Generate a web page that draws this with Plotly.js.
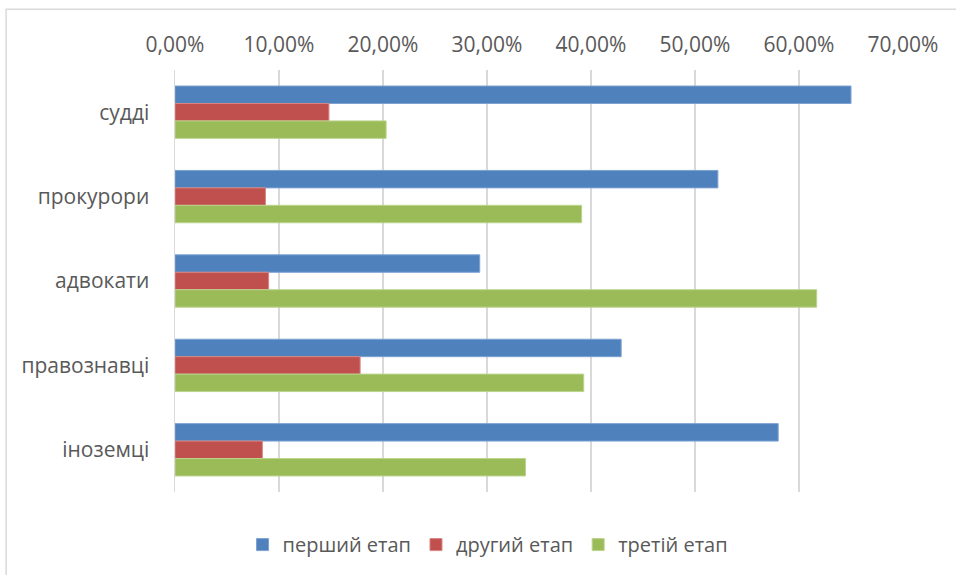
<!DOCTYPE html>
<html>
<head>
<meta charset="utf-8">
<script src="https://cdn.plot.ly/plotly-3.0.1.min.js"></script>
<style>html,body{margin:0;padding:0;background:#fff;}#chart{width:956px;height:575px;}</style>
</head>
<body>
<div id="chart"></div>
<script>
const categories = ["судді", "прокурори", "адвокати", "правознавці", "іноземці"];
const seriesNames = ["перший етап", "другий етап", "третій етап"];
const stage1 = [0.650, 0.522, 0.293, 0.429, 0.580];
const stage2 = [0.148, 0.087, 0.090, 0.178, 0.084];
const stage3 = [0.203, 0.391, 0.617, 0.393, 0.337];
const tickValues = [0, 0.1, 0.2, 0.3, 0.4, 0.5, 0.6, 0.7];

const colors = ["#4F81BD", "#C0504D", "#9BBB59"];
const lineColors = ["#7DA2D3", "#D98583", "#BBD48C"];
const font = "Open Sans, Roboto, sans-serif";
const values = [stage1, stage2, stage3];

const traces = values.map((v, i) => ({
  type: "bar",
  orientation: "h",
  name: seriesNames[i],
  x: v,
  y: categories,
  marker: {color: colors[i], line: {color: lineColors[i], width: 1}},
  hoverinfo: "skip"
}));

const layout = {
  width: 956,
  height: 575,
  margin: {l: 174.5, r: 52.5, t: 70, b: 81.5, pad: 0},
  paper_bgcolor: "#ffffff",
  plot_bgcolor: "#ffffff",
  barmode: "group",
  bargap: 0.38,
  bargroupgap: 0,
  separators: ",.",
  font: {family: font, size: 21, color: "#595959"},
  xaxis: {
    side: "top",
    range: [0, 0.7],
    tickvals: tickValues,
    tickformat: ".2%",
    showgrid: true,
    gridcolor: "#D9D9D9",
    gridwidth: 1.5,
    zeroline: false,
    showline: false,
    ticks: "",
    ticklabelstandoff: 13,
    tickfont: {family: font, size: 21, color: "#595959"},
    fixedrange: true
  },
  yaxis: {
    autorange: "reversed",
    showgrid: false,
    zeroline: false,
    showline: true,
    linecolor: "#D9D9D9",
    linewidth: 1.5,
    ticks: "",
    ticklabelstandoff: 20,
    tickfont: {family: font, size: 21, color: "#595959"},
    fixedrange: true
  },
  legend: {
    orientation: "h",
    x: 0.43,
    xanchor: "center",
    y: -0.122,
    yanchor: "middle",
    font: {family: font, size: 20, color: "#595959"},
    itemclick: false,
    traceorder: "normal"
  },
  shapes: [{
    type: "rect",
    xref: "paper", yref: "paper",
    x0: -0.232, x1: 1.08, y0: -0.3, y1: 1.144,
    line: {color: "#D9D9D9", width: 1.5},
    fillcolor: "rgba(0,0,0,0)",
    layer: "below"
  }],
  showlegend: true
};

Plotly.newPlot("chart", traces, layout, {displayModeBar: false, staticPlot: true});
</script>
</body>
</html>
